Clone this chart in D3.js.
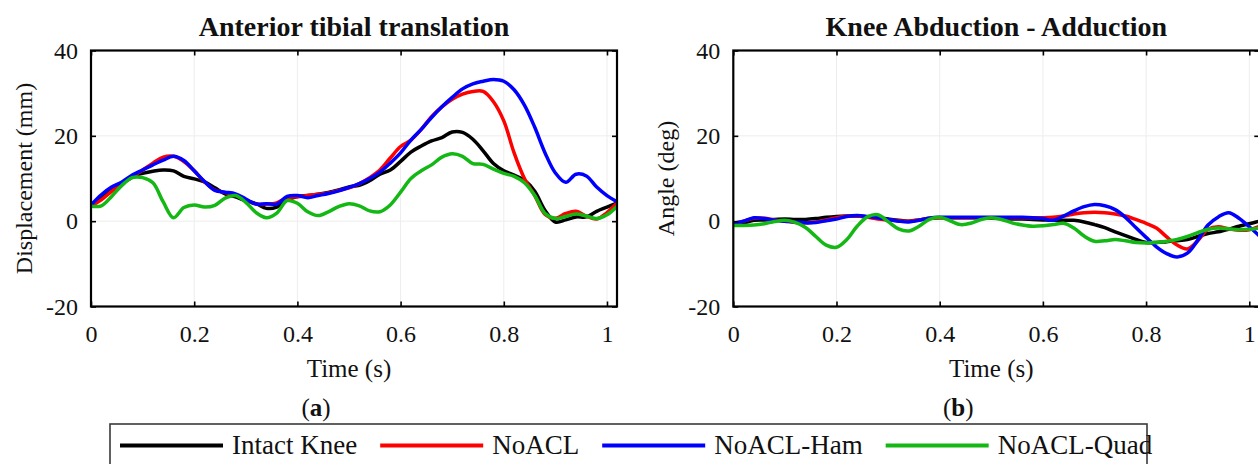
<!DOCTYPE html>
<html>
<head>
<meta charset="utf-8">
<script src="https://cdn.jsdelivr.net/npm/d3@7"></script>
<style>
  body { margin: 0; background: #fff; }
  svg { display: block; font-family: "Liberation Serif", "Times New Roman", serif; }
</style>
</head>
<body>
<svg id="chart" width="1258" height="464"></svg>
<script>
// time samples (s)
const time = [0, 0.02, 0.04, 0.06, 0.08, 0.10, 0.12, 0.14, 0.16, 0.18,
  0.20, 0.22, 0.24, 0.26, 0.28, 0.30, 0.32, 0.34, 0.36, 0.38,
  0.40, 0.42, 0.44, 0.46, 0.48, 0.50, 0.52, 0.54, 0.56, 0.58,
  0.60, 0.62, 0.64, 0.66, 0.68, 0.70, 0.72, 0.74, 0.76, 0.78,
  0.80, 0.82, 0.84, 0.86, 0.88, 0.90, 0.92, 0.94, 0.96, 0.98,
  1.00, 1.02];

// (a) anterior tibial translation, mm
const atIntact = [3.8, 5.5, 7.5, 9.0, 10.5, 11.2, 11.7, 12.0, 11.8, 10.5,
  9.9, 9.2, 7.8, 6.4, 5.7, 4.8, 4.1, 3.0, 3.3, 5.0,
  5.8, 6.0, 6.3, 6.7, 7.3, 8.0, 8.4, 9.5, 11.0, 12.0,
  14.0, 16.2, 17.6, 18.8, 19.6, 20.9, 20.8, 19.2, 16.5, 13.5,
  11.8, 10.8, 9.6, 7.0, 2.5, -0.2, 0.3, 1.0, 1.0, 2.3,
  3.3, 4.3];
const atNoACL = [3.5, 5.0, 7.0, 8.8, 10.3, 12.0, 13.6, 15.0, 15.2, 14.0,
  11.8, 9.2, 7.3, 6.7, 6.1, 5.0, 4.0, 4.0, 4.3, 5.5,
  5.7, 6.0, 6.3, 6.6, 7.2, 7.8, 8.8, 10.2, 12.0, 14.8,
  17.5, 19.0, 21.5, 24.5, 26.8, 28.6, 29.8, 30.4, 30.4, 28.0,
  23.5, 16.0, 10.0, 6.0, 1.6, 0.7, 1.8, 2.3, 1.2, 0.5,
  2.0, 4.3];
const atNoACLHam = [3.8, 6.2, 8.0, 9.2, 10.8, 12.0, 13.2, 14.3, 15.2, 14.2,
  11.8, 9.3, 7.2, 6.8, 6.4, 5.2, 4.0, 4.1, 4.0, 5.8,
  6.0, 5.5, 6.0, 6.5, 7.1, 7.9, 8.8, 10.0, 11.5, 13.6,
  16.0, 19.0, 21.5, 24.3, 26.8, 29.0, 31.0, 32.2, 32.8, 33.2,
  32.8, 30.8, 27.2, 22.0, 16.0, 11.3, 9.1, 11.0, 10.6, 8.0,
  6.0, 4.5];
const atNoACLQuad = [3.5, 3.6, 5.8, 8.4, 10.2, 10.2, 9.0, 4.5, 0.8, 3.2,
  3.8, 3.3, 3.7, 5.4, 6.0, 4.4, 2.0, 0.8, 1.9, 4.8,
  4.2, 2.2, 1.3, 2.2, 3.4, 4.1, 3.6, 2.4, 2.2, 3.8,
  6.8, 10.0, 11.8, 13.2, 15.0, 15.8, 15.2, 13.5, 13.3, 12.2,
  11.2, 10.5, 9.0, 6.0, 1.8, 0.6, 1.1, 1.7, 1.2, 0.6,
  1.5, 3.5];

// (b) knee abduction - adduction, deg
const abIntact = [-0.8, -0.4, 0.2, 0.3, 0.4, 0.5, 0.4, 0.4, 0.6, 0.9,
  1.1, 1.2, 1.2, 1.0, 0.8, 0.5, 0.2, 0.0, 0.3, 0.7,
  0.8, 0.8, 0.8, 0.8, 0.8, 0.7, 0.6, 0.5, 0.5, 0.4,
  0.3, 0.2, 0.2, 0.2, -0.2, -0.8, -1.5, -2.5, -3.4, -4.3,
  -5.0, -5.0, -4.8, -4.6, -4.3, -3.6, -2.9, -2.5, -1.9, -1.2,
  -0.6, 0.0];
const abNoACL = [-0.6, 0.0, 0.7, 0.7, 0.3, 0.0, -0.3, -0.4, -0.2, 0.3,
  0.8, 1.2, 1.2, 0.9, 0.5, 0.3, 0.1, 0.0, 0.3, 0.6,
  0.8, 0.8, 0.8, 0.8, 0.8, 0.8, 0.8, 0.8, 0.8, 0.8,
  0.8, 0.9, 1.2, 1.7, 2.0, 2.1, 2.0, 1.7, 1.2, 0.4,
  -0.5, -1.6, -3.7, -5.6, -6.5, -4.6, -1.9, -1.3, -1.8, -2.1,
  -2.0, -1.2];
const abNoACLHam = [-0.5, 0.0, 0.8, 0.6, 0.2, 0.0, -0.2, -0.4, -0.3, 0.1,
  0.5, 1.1, 1.3, 1.1, 0.8, 0.4, 0.0, -0.2, 0.2, 0.7,
  0.9, 0.9, 0.9, 0.9, 0.9, 0.9, 0.9, 0.9, 0.9, 0.8,
  0.6, 0.2, 1.2, 2.4, 3.4, 3.9, 3.6, 2.7, 0.9, -1.5,
  -3.8, -6.0, -7.6, -8.4, -7.5, -4.5, -0.9, 1.0, 2.0, 0.7,
  -1.3, -3.5];
const abNoACLQuad = [-1.0, -1.0, -0.9, -0.6, -0.1, 0.2, -0.3, -1.5, -3.6, -5.6,
  -6.1, -4.3, -1.2, 1.0, 1.5, -0.1, -1.8, -2.3, -1.2, 0.4,
  0.9, 0.1, -0.8, -0.5, 0.4, 0.8, 0.4, -0.4, -0.9, -1.2,
  -1.1, -0.8, -0.5, -1.6, -3.5, -4.7, -4.6, -4.3, -4.6, -5.0,
  -5.1, -5.0, -4.7, -4.3, -3.6, -2.7, -1.9, -1.6, -1.8, -2.0,
  -1.9, -1.6];

const seriesNames = ["Intact Knee", "NoACL", "NoACL-Ham", "NoACL-Quad"];
const xTicks = [0, 0.2, 0.4, 0.6, 0.8, 1];
const yTicks = [-20, 0, 20, 40];

const colors = ["#000000", "#ff0000", "#0000ff", "#14b814"];

const svg = d3.select("#chart");

// plot box geometry
const plotTop = 50.5;
const plotW = 526;
const plotH = 256;
const xMax = 1.0194;

const panels = [
  { x0: 91, title: "Anterior tibial translation", yLabel: "Displacement (mm)", tag: "a",
    series: [atIntact, atNoACL, atNoACLHam, atNoACLQuad] },
  { x0: 733.3, title: "Knee Abduction - Adduction", yLabel: "Angle (deg)", tag: "b",
    series: [abIntact, abNoACL, abNoACLHam, abNoACLQuad] }
];

panels.forEach((p, pi) => drawPanel(p, pi));

function drawPanel(p, pi) {
  const g = svg.append("g")
    .attr("transform", `translate(${p.x0},${plotTop})`);

  const x = d3.scaleLinear().domain([0, xMax]).range([0, plotW]);
  const y = d3.scaleLinear().domain([-20, 40]).range([plotH, 0]);

  // grid
  g.append("g").selectAll("line")
    .data(xTicks.filter(d => d > 0))
    .join("line")
    .attr("x1", d => x(d)).attr("x2", d => x(d))
    .attr("y1", 0).attr("y2", plotH)
    .attr("stroke", "#ededed").attr("stroke-width", 1);
  g.append("g").selectAll("line")
    .data(yTicks.filter(d => d > -20 && d < 40))
    .join("line")
    .attr("x1", 0).attr("x2", plotW)
    .attr("y1", d => y(d)).attr("y2", d => y(d))
    .attr("stroke", "#ededed").attr("stroke-width", 1);

  // clip to the axes box
  const clipId = "clip" + pi;
  g.append("clipPath").attr("id", clipId)
    .append("rect").attr("width", plotW).attr("height", plotH);

  const line = d3.line()
    .x((d, i) => x(time[i]))
    .y(d => y(d))
    .curve(d3.curveCatmullRom);

  g.append("g").attr("clip-path", `url(#${clipId})`)
    .selectAll("path")
    .data(p.series)
    .join("path")
    .attr("fill", "none")
    .attr("stroke", (d, i) => colors[i])
    .attr("stroke-width", 3.5)
    .attr("stroke-linejoin", "round")
    .attr("d", line);

  const fmt = d => String(d);

  // bottom axis with labels
  const bottom = g.append("g")
    .attr("transform", `translate(0,${plotH})`)
    .call(d3.axisBottom(x).tickValues(xTicks).tickFormat(fmt)
      .tickSizeInner(-5).tickSizeOuter(0).tickPadding(18));
  // left axis with labels
  const left = g.append("g")
    .call(d3.axisLeft(y).tickValues(yTicks).tickFormat(fmt)
      .tickSizeInner(-5).tickSizeOuter(0).tickPadding(13));
  // top and right: ticks only
  const top = g.append("g")
    .call(d3.axisTop(x).tickValues(xTicks).tickFormat("")
      .tickSizeInner(-5).tickSizeOuter(0));
  const right = g.append("g")
    .attr("transform", `translate(${plotW},0)`)
    .call(d3.axisRight(y).tickValues(yTicks).tickFormat("")
      .tickSizeInner(-5).tickSizeOuter(0));

  [bottom, left, top, right].forEach(a => {
    a.select(".domain").remove();
    a.selectAll(".tick line").attr("stroke", "#000").attr("stroke-width", 1.6);
    a.selectAll("text")
      .attr("fill", "#111")
      .style("font-family", '"Liberation Serif", serif')
      .style("font-size", "24px");
  });

  // axes box
  g.append("rect")
    .attr("width", plotW).attr("height", plotH)
    .attr("fill", "none")
    .attr("stroke", "#000")
    .attr("stroke-width", 2.2);

  // title
  g.append("text")
    .attr("x", plotW / 2).attr("y", -14.5)
    .attr("text-anchor", "middle")
    .style("font-size", "28px").style("font-weight", "bold")
    .attr("fill", "#111")
    .text(p.title);

  // axis labels
  g.append("text")
    .attr("x", x(0.5)).attr("y", plotH + 70)
    .attr("text-anchor", "middle")
    .style("font-size", "25px")
    .attr("fill", "#111")
    .text("Time (s)");

  g.append("text")
    .attr("transform", `translate(-59,${plotH / 2}) rotate(-90)`)
    .attr("text-anchor", "middle")
    .style("font-size", "24px")
    .attr("fill", "#111")
    .text(p.yLabel);

  // subfigure tag
  const tag = g.append("text")
    .attr("x", 225).attr("y", plotH + 109)
    .attr("text-anchor", "middle")
    .style("font-size", "25px")
    .attr("fill", "#111");
  tag.append("tspan").text("(");
  tag.append("tspan").style("font-weight", "bold").text(p.tag);
  tag.append("tspan").text(")");
}

// legend
const legend = svg.append("g");
legend.append("rect")
  .attr("x", 110).attr("y", 424)
  .attr("width", 1037).attr("height", 52)
  .attr("fill", "#fff")
  .attr("stroke", "#3a3a3a")
  .attr("stroke-width", 1.6);

let cx = 120;
seriesNames.forEach((name, i) => {
  legend.append("line")
    .attr("x1", cx).attr("x2", cx + 103)
    .attr("y1", 445.5).attr("y2", 445.5)
    .attr("stroke", colors[i])
    .attr("stroke-width", 4);
  const t = legend.append("text")
    .attr("x", cx + 112).attr("y", 454)
    .style("font-size", "27px")
    .attr("fill", "#111")
    .text(name);
  cx = cx + 112 + t.node().getComputedTextLength() + 23;
});
</script>
</body>
</html>
